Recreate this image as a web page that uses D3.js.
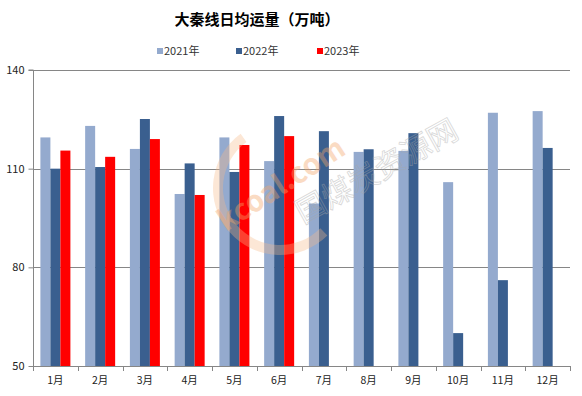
<!DOCTYPE html>
<html><head><meta charset="utf-8">
<script src="https://cdn.jsdelivr.net/npm/d3@7"></script>
<style>
body{margin:0;background:#fff;}
svg{display:block;}
text{font-family:"Noto Sans CJK SC","DejaVu Sans",sans-serif;}
</style></head>
<body>
<svg id="c" width="582" height="396"></svg>
<script>
const months = ["1月","2月","3月","4月","5月","6月","7月","8月","9月","10月","11月","12月"];
const seriesNames = ["2021年","2022年","2023年"];
const s2021 = [119.5,123.0,116.0,102.3,119.5,112.3,99.4,115.1,115.4,105.9,127.0,127.5];
const s2022 = [110.0,110.5,125.1,111.6,109.0,126.0,121.4,115.9,120.8,60.0,76.1,116.3];
const s2023 = [115.5,113.6,119.0,102.0,117.2,119.9,null,null,null,null,null,null];
const yTicks = [50,80,110,140];
const colors = ["#94aace","#3a5f8f","#ff0000"];

const svg = d3.select("#c");
const L = 33, R = 570, T = 70, B = 366;
const x0 = d3.scaleBand().domain(months).range([L, R]).padding(0);
const x1 = d3.scaleBand().domain(seriesNames).range([7.4, 37.4]).padding(0);
const y = d3.scaleLinear().domain([50, 140]).range([B, T]);

// gridlines
svg.append("g").selectAll("line").data(yTicks.slice(1)).join("line")
  .attr("x1", L).attr("x2", R).attr("y1", d => Math.round(y(d)) + 0.5).attr("y2", d => Math.round(y(d)) + 0.5)
  .attr("stroke", "#868686").attr("stroke-width", 1);

// bars
const data = months.map((m, i) => ({m, vals: [s2021[i], s2022[i], s2023[i]]}));
const g = svg.append("g");
g.selectAll("g").data(data).join("g")
  .attr("transform", d => `translate(${x0(d.m)},0)`)
  .selectAll("rect").data(d => d.vals.map((v, j) => ({v, s: seriesNames[j], j})).filter(e => e.v != null))
  .join("rect")
  .attr("x", e => x1(e.s)).attr("width", x1.bandwidth())
  .attr("y", e => y(e.v)).attr("height", e => y(50) - y(e.v))
  .attr("fill", e => colors[e.j]);

// watermark (semi-transparent overlay)
const wm = svg.append("g");
wm.append("path")
  .attr("d", d3.arc()({innerRadius: 57, outerRadius: 67, startAngle: Math.PI*0.75, endAngle: Math.PI*1.8}))
  .attr("transform", "translate(280,188)")
  .attr("fill", "#f7b98a").attr("opacity", 0.35);
wm.append("text").attr("transform", "translate(226,232) rotate(-33)")
  .attr("font-size", 29).attr("font-weight", "bold").attr("fill", "#f5a66b").attr("opacity", 0.4)
  .attr("font-family", "DejaVu Sans").text("kcoal.com");
wm.append("text").attr("transform", "translate(303,224) rotate(-29)")
  .attr("font-size", 30).attr("fill", "none").attr("stroke", "#a8a8a8").attr("stroke-width", 0.8).attr("opacity", 0.45)
  .text("国煤炭资源网");

// y axis
const ya = svg.append("g").attr("transform", `translate(${L + 0.5},0)`)
  .call(d3.axisLeft(y).tickValues(yTicks).tickSize(5).tickPadding(4));
ya.select(".domain").attr("stroke", "#868686").attr("d", `M-5,${y(140)}H0V${y(50)}`);
ya.selectAll(".tick line").attr("stroke", "#868686");
ya.selectAll(".tick text").attr("font-size", 11).attr("fill", "#222").attr("font-family", "DejaVu Sans, sans-serif");

// x axis
const xa = svg.append("g").attr("transform", `translate(0,${B + 0.5})`)
  .call(d3.axisBottom(x0).tickSize(0).tickPadding(10));
xa.select(".domain").attr("stroke", "#868686").attr("d", `M${L},0H${R}`);
xa.selectAll(".tick text").attr("font-size", 10.5).attr("fill", "#222");
svg.append("g").selectAll("line").data(d3.range(months.length + 1)).join("line")
  .attr("x1", i => Math.round(L + i * x0.step()) + 0.5).attr("x2", i => Math.round(L + i * x0.step()) + 0.5)
  .attr("y1", B).attr("y2", B + 5).attr("stroke", "#868686");

// title
svg.append("text").attr("x", 257).attr("y", 25).attr("text-anchor", "middle")
  .attr("font-size", 15).attr("font-weight", "bold").attr("fill", "#000")
  .text("大秦线日均运量（万吨）");

// legend
const legX = [157, 236, 317];
const lg = svg.append("g").selectAll("g").data(seriesNames).join("g")
  .attr("transform", (d, i) => `translate(${legX[i]},51)`);
lg.append("rect").attr("x", 0).attr("y", -3).attr("width", 6).attr("height", 6).attr("fill", (d, i) => colors[i]);
lg.append("text").attr("x", 7).attr("y", 4).attr("font-size", 11).attr("fill", "#333").text(d => d);
</script>
</body></html>
